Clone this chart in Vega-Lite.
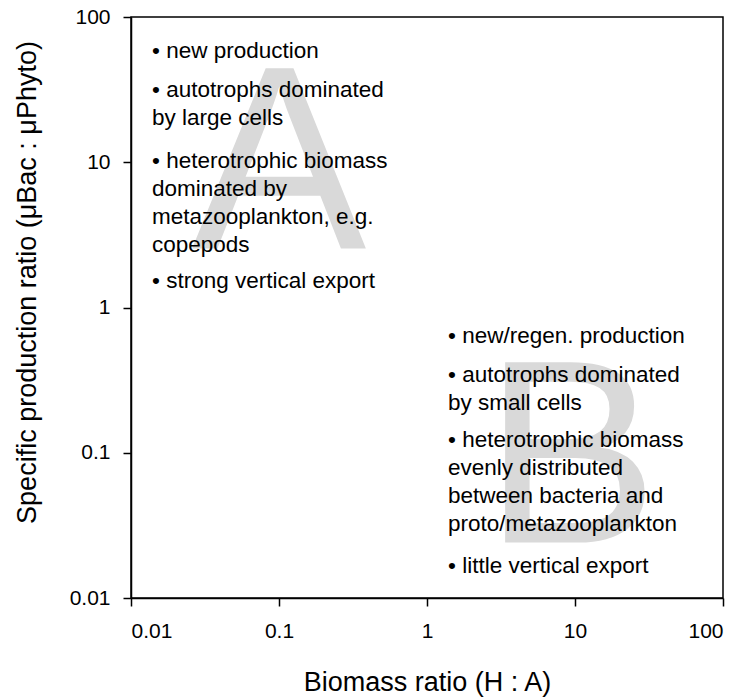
{
  "$schema": "https://vega.github.io/schema/vega-lite/v6.json",
  "width": 592,
  "height": 581,
  "autosize": "none",
  "padding": {"left": 131, "top": 17, "right": 18, "bottom": 102},
  "background": "white",
  "config": {
    "font": "Liberation Sans",
    "view": {"stroke": "black", "strokeWidth": 1.5},
    "axis": {
      "grid": false,
      "domainColor": "black",
      "domainWidth": 1.5,
      "tickColor": "black",
      "tickWidth": 1.5,
      "tickSize": 8,
      "labelFont": "Liberation Sans",
      "labelFontSize": 21,
      "labelColor": "black",
      "titleFont": "Liberation Sans",
      "titleFontSize": 27,
      "titleFontWeight": "normal",
      "titleColor": "black"
    }
  },
  "datasets": {
    "letters": [
      {"letter": "A", "x": 0.1, "y": 2.55},
      {"letter": "B", "x": 9.4, "y": 0.0241}
    ],
    "notes": [
      {"x": 0.01387, "y": 52.6, "note": "• new production"},
      {"x": 0.01387, "y": 28.3, "note": "• autotrophs dominated\nby large cells"},
      {"x": 0.01387, "y": 9.19, "note": "• heterotrophic biomass\ndominated by\nmetazooplankton, e.g.\ncopepods"},
      {"x": 0.01387, "y": 1.373, "note": "• strong vertical export"},
      {"x": 1.387, "y": 0.574, "note": "• new/regen. production"},
      {"x": 1.387, "y": 0.305, "note": "• autotrophs dominated\nby small cells"},
      {"x": 1.387, "y": 0.1088, "note": "• heterotrophic biomass\nevenly distributed\nbetween bacteria and\nproto/metazooplankton"},
      {"x": 1.387, "y": 0.01476, "note": "• little vertical export"}
    ]
  },
  "layer": [
    {
      "data": {"name": "letters"},
      "mark": {"type": "text", "fontSize": 262, "color": "#d9d9d9", "align": "center", "baseline": "alphabetic", "font": "Liberation Sans"},
      "encoding": {
        "x": {
          "field": "x", "type": "quantitative",
          "scale": {"type": "log", "domain": [0.01, 100], "nice": false},
          "axis": {"values": [0.01, 0.1, 1, 10, 100], "format": "~g", "title": "Biomass ratio (H : A)", "labelPadding": 14, "titlePadding": 28}
        },
        "y": {
          "field": "y", "type": "quantitative",
          "scale": {"type": "log", "domain": [0.01, 100], "nice": false},
          "axis": {"values": [0.01, 0.1, 1, 10, 100], "format": "~g", "title": "Specific production ratio (μBac : μPhyto)", "labelPadding": 13, "titlePadding": 28, "titleY": 265}
        },
        "text": {"field": "letter"}
      }
    },
    {
      "mark": {"type": "rule", "color": "black", "strokeWidth": 1.2},
      "encoding": {"x": {"datum": 1, "type": "quantitative"}}
    },
    {
      "mark": {"type": "rule", "color": "black", "strokeWidth": 1.2},
      "encoding": {"y": {"datum": 1, "type": "quantitative"}}
    },
    {
      "data": {"name": "notes"},
      "mark": {"type": "text", "fontSize": 22.5, "color": "black", "align": "left", "baseline": "alphabetic", "lineBreak": "\n", "lineHeight": 28, "font": "Liberation Sans"},
      "encoding": {
        "x": {"field": "x", "type": "quantitative"},
        "y": {"field": "y", "type": "quantitative"},
        "text": {"field": "note"}
      }
    }
  ]
}
